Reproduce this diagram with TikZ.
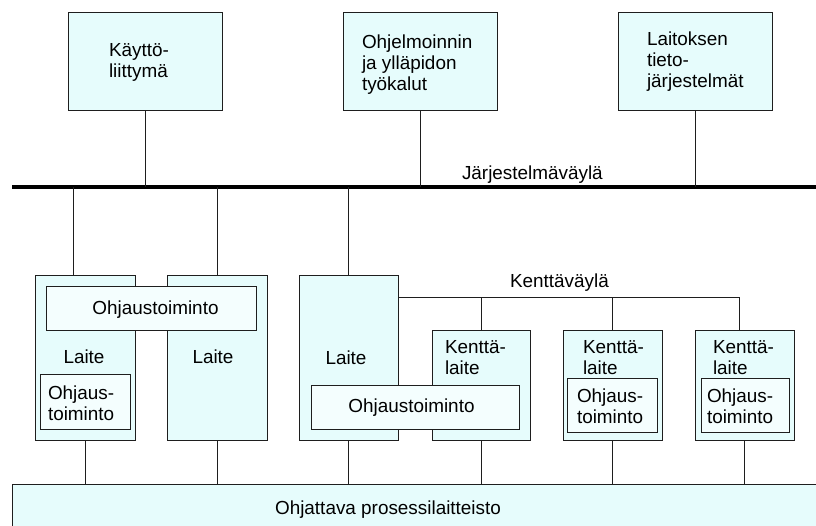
\documentclass[tikz,border=0pt]{standalone}
\usepackage{fontspec}
\setmainfont{Liberation Sans}
\usetikzlibrary{calc}
\definecolor{boxcyan}{HTML}{E6FCFC}
\definecolor{innercyan}{HTML}{F4FEFE}
\definecolor{edge}{HTML}{1E1E1E}
\begin{document}
\begin{tikzpicture}[x=1pt,y=-1pt,
  every node/.style={font=\fontsize{18.9}{21}\selectfont, inner sep=0pt, outer sep=0pt},
  unit/.style={draw=edge, line width=1pt, fill=boxcyan, rectangle, anchor=north west},
  inner/.style={draw=edge, line width=1pt, fill=innercyan, rectangle, anchor=north west},
  % multi-line labels are placed by the baseline of their last line
  txt/.style={anchor=base west, align=left},
  ctxt/.style={anchor=base, align=center},
  wire/.style={draw=edge, line width=1pt},
  bus/.style={draw=black, line width=4pt}]
\useasboundingbox (0,0) rectangle (816,525);

% upper level systems
\node[unit, minimum width=154pt, minimum height=98pt] (ui)    at (68,12)  {};
\node[unit, minimum width=154pt, minimum height=98pt] (tools) at (343,12) {};
\node[unit, minimum width=154pt, minimum height=98pt] (plant) at (618,12) {};
\node[txt] (tui)    at (109,77) {Käyttö-\\liittymä};
\node[txt] (ttools) at (362,90) {Ohjelmoinnin\\ja ylläpidon\\työkalut};
\node[txt] (tplant) at (647,87) {Laitoksen\\tieto-\\järjestelmät};

% system bus
\coordinate (busL) at (12,187);
\coordinate (busR) at (816,187);
\draw[bus] (busL) -- (busR);
\node[txt] (tbus) at (462,179) {Järjestelmäväylä};

% process equipment at the bottom
\node[unit, minimum width=820pt, minimum height=60pt] (proc) at (12,484) {};
\node[ctxt] (tproc) at (388,514) {Ohjattava prosessilaitteisto};

% devices
\node[unit, minimum width=100pt, minimum height=165pt] (devA) at (35,275)  {};
\node[unit, minimum width=100pt, minimum height=165pt] (devB) at (167,275) {};
\node[unit, minimum width=99pt,  minimum height=165pt] (devC) at (299,275) {};
\node[unit, minimum width=98pt,  minimum height=110pt] (fdD)  at (432,330) {};
\node[unit, minimum width=99pt,  minimum height=110pt] (fdE)  at (563,330) {};
\node[unit, minimum width=99pt,  minimum height=110pt] (fdF)  at (695,330) {};

% control functions
\node[inner, minimum width=210pt, minimum height=44pt] (ctlAB) at (46,286)  {};
\node[inner, minimum width=90pt,  minimum height=55pt] (ctlA)  at (40,374)  {};
\node[inner, minimum width=208pt, minimum height=44pt] (ctlCD) at (311,385) {};
\node[inner, minimum width=90pt,  minimum height=54pt] (ctlE)  at (567,378) {};
\node[inner, minimum width=88pt,  minimum height=54pt] (ctlF)  at (701,378) {};

% labels of devices and functions
\node[ctxt] (tctlAB) at (155.5,314) {Ohjaustoiminto};
\node[ctxt] (tdevA)  at (84,363)  {Laite};
\node[ctxt] (tdevB)  at (213,363) {Laite};
\node[ctxt] (tdevC)  at (346,364) {Laite};
\node[txt]  (tctlA)  at (48,420)  {Ohjaus-\\toiminto};
\node[txt]  (tfdD)   at (445,374) {Kenttä-\\laite};
\node[txt]  (tfdE)   at (583,374) {Kenttä-\\laite};
\node[txt]  (tfdF)   at (713,374) {Kenttä-\\laite};
\node[ctxt] (tctlCD) at (411.5,412) {Ohjaustoiminto};
\node[txt]  (tctlE)  at (577,423) {Ohjaus-\\toiminto};
\node[txt]  (tctlF)  at (707,423) {Ohjaus-\\toiminto};

% connections to the system bus
\draw[wire] (ui.south) -- (ui.south |- busL);
\draw[wire] (tools.south) -- (tools.south |- busL);
\draw[wire] (plant.south) -- (plant.south |- busL);
\coordinate (dropA) at ($(devA.north west)+(38,0)$);
\draw[wire] (dropA |- busL) -- (dropA);
\draw[wire] (devB.north |- busL) -- (devB.north);
\draw[wire] (devC.north |- busL) -- (devC.north);

% field bus
\coordinate (fbL) at ($(devC.north east)+(0,22)$);
\coordinate (fbR) at ($(fdF.north)+(-5,-33)$);
\draw[wire] (fbL) -- (fbR) -- (fbR |- fdF.north);
\draw[wire] (fdD.north |- fbL) -- (fdD.north);
\draw[wire] (fdE.north |- fbL) -- (fdE.north);
\node[txt] (tfb) at (510,287) {Kenttäväylä};

% connections to the process
\foreach \d in {devA,devB,devC,fdD,fdE,fdF}
  \draw[wire] (\d.south) -- (\d.south |- proc.north);
\end{tikzpicture}
\end{document}
